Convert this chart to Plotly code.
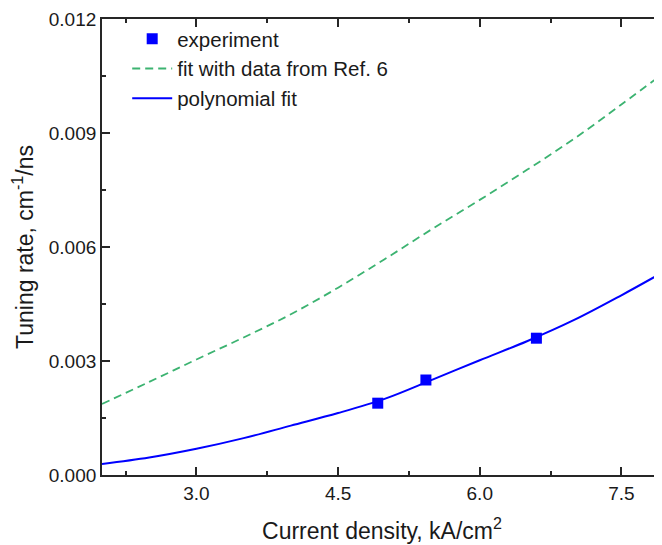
import plotly.graph_objects as go

# Experimental points
exp_x = [4.92, 5.43, 6.60]
exp_y = [0.00189, 0.00250, 0.00360]

# Fit with data from Ref. 6 (green dashed)
ref_x = [2.0, 2.5, 3.0, 3.5, 4.0, 4.5, 5.0, 5.5, 6.0, 6.5, 7.0, 7.5, 7.95]
ref_y = [0.00187, 0.00245, 0.00304, 0.00362, 0.00423, 0.00493, 0.00569, 0.00648,
         0.00724, 0.00803, 0.00885, 0.00975, 0.01058]

# Polynomial fit (blue solid)
poly_x = [2.0, 2.5, 3.0, 3.5, 4.0, 4.5, 5.0, 5.5, 6.0, 6.5, 7.0, 7.5, 7.95]
poly_y = [0.00029, 0.00046, 0.00069, 0.00097, 0.00130, 0.00163, 0.00201, 0.00251,
          0.00302, 0.00352, 0.00408, 0.00473, 0.00535]

x_title = "Current density, kA/cm<sup>2</sup>"
y_title = "Tuning rate, cm<sup>-1</sup>/ns"

FONT = "Liberation Sans, Arial, sans-serif"
AX = "#262626"

fig = go.Figure()
fig.add_trace(go.Scatter(x=exp_x, y=exp_y, mode="markers", name="experiment",
                         marker=dict(symbol="square", size=11, color="#0000FF")))
fig.add_trace(go.Scatter(x=ref_x, y=ref_y, mode="lines", name="fit with data from Ref. 6",
                         line=dict(color="#3CB371", width=1.8, dash="8px,5px", shape="spline")))
fig.add_trace(go.Scatter(x=poly_x, y=poly_y, mode="lines", name="polynomial fit",
                         line=dict(color="#0000FF", width=2, shape="spline")))

axis_common = dict(showline=True, linecolor=AX, linewidth=1.8, mirror="ticks",
                   ticks="inside", ticklen=8, tickwidth=1.6, tickcolor=AX,
                   showgrid=False, zeroline=False, automargin=False,
                   tickfont=dict(family=FONT, size=19, color="#1a1a1a"),
                   title_font=dict(family=FONT, size=23, color="#1a1a1a"))

fig.update_xaxes(range=[2.0, 7.93], tick0=3.0, dtick=1.5, tickformat=".1f",
                 minor=dict(ticks="inside", ticklen=4, tickwidth=1.6, tickcolor=AX, dtick=0.75, tick0=3.0),
                 title=dict(text=x_title, standoff=20), **axis_common)
fig.update_yaxes(range=[0.0, 0.012], tick0=0, dtick=0.003, tickformat=".3f",
                 minor=dict(ticks="inside", ticklen=4, tickwidth=1.6, tickcolor=AX, dtick=0.0015, tick0=0),
                 title=dict(text=y_title, standoff=12), **axis_common)

# The page body adds an 8px margin, so the figure is sized to fit the window from there.
fig.update_layout(
    width=654, height=537,
    margin=dict(l=94, r=0, t=11, b=70, autoexpand=False),
    paper_bgcolor="white", plot_bgcolor="white",
    font=dict(family=FONT, size=20, color="#1a1a1a"),
    legend=dict(x=0.045, y=1.0, xanchor="left", yanchor="top",
                bgcolor="rgba(0,0,0,0)", font=dict(family=FONT, size=20.5),
                tracegroupgap=0, itemwidth=40),
    showlegend=True,
)

fig.write_html("out.html")
